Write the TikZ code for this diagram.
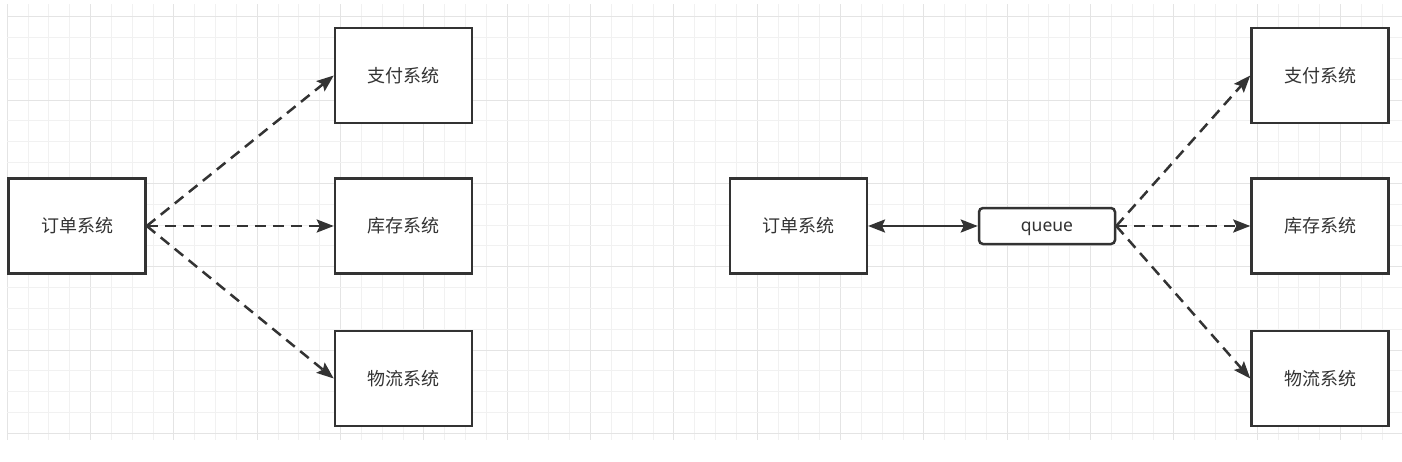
\documentclass[tikz,border=0pt]{standalone}
\usepackage{fontspec}
\newfontfamily\cjk{Noto Sans CJK SC}
\newfontfamily\latinsans{Noto Sans}
\usetikzlibrary{arrows.meta}
\definecolor{gridminor}{RGB}{241,241,241}
\definecolor{gridmajor}{RGB}{228,228,228}
\definecolor{ink}{RGB}{51,51,51}
\definecolor{txt}{RGB}{51,51,51}
\tikzset{
  sysbox/.style={draw=ink, line width=2.5pt, fill=white, rectangle, inner sep=0pt,
    minimum width=137pt, minimum height=95pt, font=\cjk\fontsize{18}{21}\selectfont, text=txt},
  qbox/.style={draw=ink, line width=2.5pt, fill=white, rectangle, rounded corners=4pt, inner sep=0pt,
    minimum width=136pt, minimum height=36pt, text height=11.5pt, text depth=0pt,
    font=\latinsans\fontsize{17.5}{21}\selectfont, text=txt},
  dasharrow/.style={draw=ink, line width=2.5pt, dash pattern=on 11pt off 7pt,
    -{Stealth[length=17pt,width=13pt,inset=3pt]}},
  solidarrow/.style={draw=ink, line width=2.5pt,
    {Stealth[length=17pt,width=13pt,inset=3pt]}-{Stealth[length=17pt,width=13pt,inset=3pt]}},
}
\begin{document}
\begin{tikzpicture}[x=1pt,y=-1pt]
\useasboundingbox (0,0) rectangle (1402,461);
\fill[white] (0,0) rectangle (1402,461);
% grid
\begin{scope}
\clip (7,4) rectangle (1402,440);
\foreach \i in {0,...,67}{
  \pgfmathtruncatemacro{\m}{mod(\i,4)}
  \ifnum\m=0
    \draw[gridmajor, line width=1pt] ({7.3+20.833*\i},4) -- ({7.3+20.833*\i},440);
  \else
    \draw[gridminor, line width=1pt] ({7.3+20.833*\i},4) -- ({7.3+20.833*\i},440);
  \fi
}
\foreach \j in {0,...,20}{
  \pgfmathtruncatemacro{\m}{mod(\j,4)}
  \ifnum\m=0
    \draw[gridmajor, line width=1pt] (7,{16.7+20.833*\j}) -- (1402,{16.7+20.833*\j});
  \else
    \draw[gridminor, line width=1pt] (7,{16.7+20.833*\j}) -- (1402,{16.7+20.833*\j});
  \fi
}
\end{scope}
% left diagram
\node[sysbox] (lo) at (77,226) {订单系统};
\node[sysbox] (lpay) at (403.5,75.5) {支付系统};
\node[sysbox] (lstock) at (403.5,226) {库存系统};
\node[sysbox] (llog) at (403.5,378.5) {物流系统};
\draw[dasharrow] (lo.east) -- (lpay.west);
\draw[dasharrow] (lo.east) -- (lstock.west);
\draw[dasharrow] (lo.east) -- (llog.west);
% right diagram
\node[sysbox] (ro) at (798.3,226) {订单系统};
\node[qbox] (q) at (1047,226) {queue};
\node[sysbox] (rpay) at (1320,75.5) {支付系统};
\node[sysbox] (rstock) at (1320,226) {库存系统};
\node[sysbox] (rlog) at (1320,378.5) {物流系统};
\draw[solidarrow] (ro.east) -- (q.west);
\draw[dasharrow] (q.east) -- (rpay.west);
\draw[dasharrow] (q.east) -- (rstock.west);
\draw[dasharrow] (q.east) -- (rlog.west);
\end{tikzpicture}
\end{document}
